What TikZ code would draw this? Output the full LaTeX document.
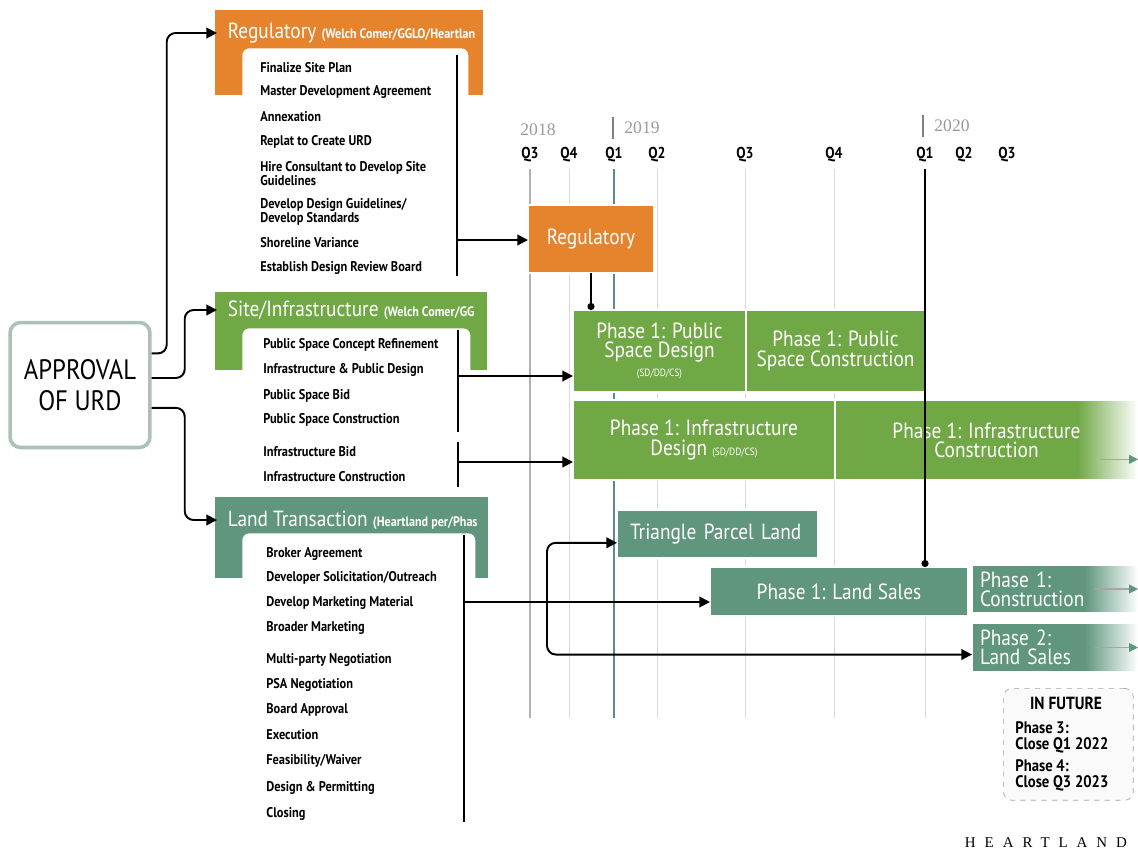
\documentclass[tikz,border=0pt]{standalone}
\usepackage{fontspec}
\setmainfont{PT Sans}[FakeStretch=0.88]
\newfontfamily\yearfont{Liberation Serif}
\newfontfamily\logofont{Liberation Serif}[LetterSpace=60]
\usetikzlibrary{arrows.meta,positioning}
\definecolor{regorange}{RGB}{230,132,45}
\definecolor{sitegreen}{RGB}{112,168,70}
\definecolor{landteal}{RGB}{96,150,126}
\definecolor{boxrim}{RGB}{172,192,182}
\definecolor{tealline}{RGB}{90,140,140}
\newcommand\subheadfont{\bfseries\fontsize{7.8}{8}\selectfont}
\pgfdeclarehorizontalshading{greenfade}{100bp}{color(0bp)=(sitegreen); color(65bp)=(sitegreen); color(75bp)=(white); color(100bp)=(white)}
\pgfdeclarehorizontalshading{tealfade}{100bp}{color(0bp)=(landteal); color(59bp)=(landteal); color(75bp)=(white); color(100bp)=(white)}

\begin{document}
\begin{tikzpicture}[x=0.02cm,y=-0.02cm,>={Triangle[length=6pt,width=6pt]},
    item/.style={anchor=west,align=left,inner sep=0pt,font=\bfseries\fontsize{8}{8}\selectfont},
    headtext/.style={anchor=west,inner xsep=6pt,inner ysep=0pt,text=white,font=\fontsize{12.5}{12}\selectfont},
    band/.style={anchor=north west,inner sep=0pt,outer sep=0pt},
    panel/.style={fill=white,rounded corners=4pt,anchor=north west,inner sep=0pt},
    bar/.style={anchor=north west,inner sep=0pt,outer sep=0pt,draw=white,line width=0.6pt,text=white,align=center,font=\fontsize{12.5}{11}\selectfont},
    quarter/.style={font=\bfseries\fontsize{9}{9}\selectfont},
    year/.style={font=\yearfont\fontsize{10}{10}\selectfont,text=gray!80},
    gridline/.style={draw=gray!30,line width=0.4pt},
    spine/.style={line width=1.1pt},
    link/.style={->,line width=1.1pt},
    farrow/.style={-{Triangle[length=5pt,width=5pt,color=landteal]},draw=gray!70,line width=0.6pt}]
    \useasboundingbox (0,0) rectangle (1138,852);

    \node[band,fill=regorange,minimum width=5.36cm,minimum height=1.7cm] (regBand) at (215,10) {};
    \node[panel,minimum width=4.52cm,minimum height=4.68cm] (regPanel) at (242,48) {};
    \node[band,fill=sitegreen,minimum width=5.44cm,minimum height=1.56cm] (siteBand) at (215,292) {};
    \node[panel,minimum width=4.56cm,minimum height=3.24cm] (sitePanel) at (242,328) {};
    \node[band,fill=landteal,minimum width=5.46cm,minimum height=1.62cm] (landBand) at (215,497) {};
    \node[panel,minimum width=4.66cm,minimum height=5.94cm] (landPanel) at (242,533) {};
    \begin{scope}
        \clip (regBand.north west) rectangle (regBand.south east);
        \node[headtext] (regTitle) at (217,33) {Regulatory {\subheadfont(Welch Comer/GGLO/Heartlan}};
    \end{scope}
    \begin{scope}
        \clip (siteBand.north west) rectangle (siteBand.south east);
        \node[headtext] (siteTitle) at (217,310) {Site/Infrastructure {\subheadfont(Welch Comer/GG}};
    \end{scope}
    \begin{scope}
        \clip (landBand.north west) rectangle (landBand.south east);
        \node[headtext] (landTitle) at (217,520) {Land Transaction {\subheadfont(Heartland per/Phas}};
    \end{scope}

    \foreach \y/\txt [count=\i] in {68/{Finalize Site Plan},92/{Master Development Agreement},117/{Annexation},142/{Replat to Create URD},174/{Hire Consultant to Develop Site\\Guidelines},212/{Develop Design Guidelines/\\Develop Standards},243/{Shoreline Variance},268/{Establish Design Review Board}}
        \node[item] (reg\i) at (260,\y) {\txt};
    \foreach \y/\txt [count=\i] in {345/{Public Space Concept Refinement},370/{Infrastructure \& Public Design},396/{Public Space Bid},420/{Public Space Construction},452/{Infrastructure Bid},477/{Infrastructure Construction}}
        \node[item] (site\i) at (263,\y) {\txt};
    \foreach \y/\txt [count=\i] in {554/{Broker Agreement},578/{Developer Solicitation/Outreach},603/{Develop Marketing Material},628/{Broader Marketing},660/{Multi-party Negotiation},685/{PSA Negotiation},710/{Board Approval},735/{Execution},761/{Feasibility/Waiver},788/{Design \& Permitting},814/{Closing}}
        \node[item] (land\i) at (266,\y) {\txt};

    \draw[spine] (457,55) -- (457,276);
    \draw[spine] (458,330) -- (458,432);
    \draw[spine] (458,442) -- (458,487);
    \draw[spine] (464,535) -- (464,822);

    \node[draw=boxrim,line width=2pt,rounded corners=6pt,fill=white,minimum width=2.8cm,minimum height=2.5cm,align=center,font=\fontsize{16}{18}\selectfont] (approval) at (80,385) {APPROVAL\\OF URD};
    \draw[link,rounded corners=5pt] ([yshift=18pt]approval.east) -- ++(15,0) |- (regTitle.west);
    \draw[link,rounded corners=5pt] ([yshift=4pt]approval.east) -- ++(33,0) |- (siteTitle.west);
    \draw[link,rounded corners=5pt] ([yshift=-13pt]approval.east) -- ++(33,0) |- (landTitle.west);

    \node[year] (y2018) at (538,130) {2018};
    \node[year] (y2019) at (642,128) {2019};
    \node[year] (y2020) at (952,126) {2020};
    \draw[gray,line width=0.8pt] ([xshift=-3pt]y2019.west) ++(0,-11) -- ++(0,22);
    \draw[gray,line width=0.8pt] ([xshift=-3pt]y2020.west) ++(0,-11) -- ++(0,22);
    \foreach \x/\q [count=\i] in {530/Q3,569/Q4,614/Q1,657/Q2,745/Q3,834/Q4,925/Q1,964/Q2,1007/Q3}
        \node[quarter] (q\i) at (\x,155) {\q};
    \coordinate (gridEnd) at (0,718);
    \foreach \i in {2,4,5,6,7}
        \draw[gridline] (q\i.south) -- (q\i.south |- gridEnd);
    \draw[gridline,draw=gray!60,line width=0.6pt] (q1.south) -- (q1.south |- gridEnd);
    \draw[gridline,draw=tealline,line width=0.7pt] (q3.south) -- (q3.south |- gridEnd);

    \node[bar,fill=regorange,minimum width=2.52cm,minimum height=1.36cm] (regBar) at (528,205) {Regulatory};
    \node[bar,fill=sitegreen,minimum width=3.46cm,minimum height=1.64cm] (psDesign) at (573,310) {Phase 1: Public\\Space Design\\{\fontsize{6}{7}\selectfont(SD/DD/CS)}};
    \node[bar,fill=sitegreen,minimum width=3.58cm,minimum height=1.64cm] (psCons) at (746,310) {Phase 1: Public\\Space Construction};
    \node[bar,fill=sitegreen,minimum width=5.24cm,minimum height=1.6cm] (infDesign) at (573,400) {Phase 1: Infrastructure\\Design {\fontsize{6}{7}\selectfont(SD/DD/CS)}};
    \node[bar,shade,shading=greenfade,minimum width=6.06cm,minimum height=1.6cm] (infCons) at (835,400) {Phase 1: Infrastructure\\Construction\hspace{0.4cm}};
    \node[bar,fill=landteal,minimum width=4.02cm,minimum height=0.96cm,text width=3.5cm,align=left] (triParcel) at (617,510) {Triangle Parcel Land};
    \node[bar,fill=landteal,minimum width=5.16cm,minimum height=0.98cm] (landSales) at (710,567) {Phase 1: Land Sales};
    \node[bar,shade,shading=tealfade,minimum width=3.32cm,minimum height=0.96cm,text width=3cm,align=left] (p1Cons) at (972,565) {Phase 1:\\Construction};
    \node[bar,shade,shading=tealfade,minimum width=3.32cm,minimum height=0.98cm,text width=3cm,align=left] (p2Land) at (972,623) {Phase 2:\\Land Sales};

    \draw[farrow] ([xshift=-0.75cm,yshift=-11pt]infCons.east) -- ([yshift=-11pt]infCons.east);
    \draw[farrow] ([xshift=-0.86cm]p1Cons.east) -- (p1Cons.east);
    \draw[farrow] ([xshift=-0.86cm]p2Land.east) -- (p2Land.east);

    \draw[spine,-{Circle[length=4pt]}] (regBar.south) -- (regBar.south |- psDesign.north);
    \draw[spine,-{Circle[length=4pt]}] (q7.south) -- (q7.south |- landSales.north);

    \coordinate (regSpine) at (457,240);
    \coordinate (siteSpineA) at (458,376);
    \coordinate (siteSpineB) at (458,462);
    \coordinate (landSpine) at (464,602);
    \coordinate (landFork) at (547,602);
    \draw[link] (regSpine) -- (regSpine -| regBar.west);
    \draw[link] (siteSpineA) -- (siteSpineA -| psDesign.west);
    \draw[link] (siteSpineB) -- (siteSpineB -| infDesign.west);
    \draw[link] (landSpine) -- (landSpine -| landSales.west);
    \draw[link,rounded corners=5pt] (landFork) |- ([yshift=-5pt]triParcel.west);
    \draw[link,rounded corners=5pt] (landFork) |- ([yshift=-4pt]p2Land.west);

    \node[draw=gray!70,dashed,rounded corners=5pt,fill=gray!4,minimum width=2.6cm,minimum height=2.24cm,anchor=north west,inner sep=0pt] (futureBox) at (1003,688) {};
    \node[font=\bfseries\fontsize{10}{10}\selectfont] (futureHead) at (1066,703) {IN FUTURE};
    \node[anchor=north west,align=left,inner sep=0pt,font=\bfseries\fontsize{9.5}{9}\selectfont] (futureList) at (1015,721) {Phase 3:\\Close Q1 2022\\[4pt]Phase 4:\\Close Q3 2023};
    \node[font=\logofont\fontsize{8.5}{9}\selectfont] (logo) at (1046,843) {HEARTLAND};
\end{tikzpicture}
\end{document}
